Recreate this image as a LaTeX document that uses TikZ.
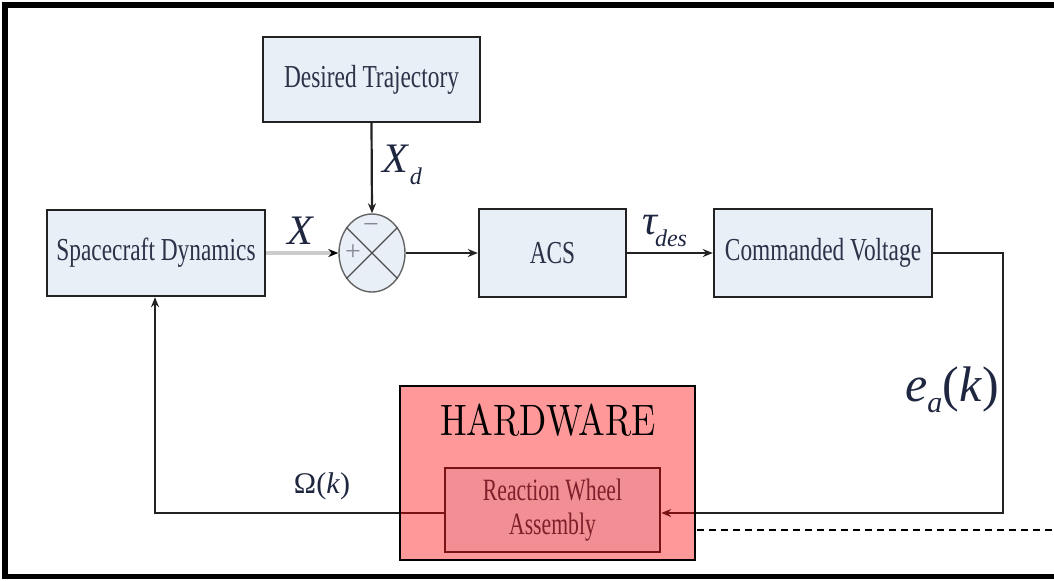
\documentclass[tikz,border=0pt]{standalone}
\usepackage{fontspec}
\usepackage{graphicx}
\usetikzlibrary{arrows.meta,shapes.geometric}
\newfontfamily\timesfam{Liberation Serif}
\newfontfamily\lmten{lmroman10-regular}[Extension=.otf]
\definecolor{boxfill}{HTML}{E8EFF7}
\definecolor{boxline}{HTML}{222222}
\definecolor{txt}{HTML}{2C3247}
\definecolor{lbl}{HTML}{1F2740}
\definecolor{hwred}{HTML}{FF0000}
\tikzset{
  block/.style={draw=boxline, line width=1.2pt, fill=boxfill, text=txt,
    font=\timesfam\fontsize{16}{17}\selectfont, align=center, inner sep=0pt},
  wire/.style={draw=boxline, line width=1.1pt},
  tip/.style={-{Stealth[length=5pt,width=4pt]}},
  sig/.style={text=lbl, inner sep=0pt},
}
% narrow text, as set in the blocks
\newcommand{\narrow}[2][0.73]{\scalebox{#1}[1]{#2}}
\newcommand{\lowsub}[1]{\raisebox{-0.6ex}{\fontsize{12}{12}\selectfont\itshape #1}}
\begin{document}
\begin{tikzpicture}[x=0.5pt,y=-0.5pt]
\useasboundingbox (0,0) rectangle (1054,580);
\clip (0,0) rectangle (1054,580);

% blocks
\node[block, minimum width=108.5pt, minimum height=42.5pt] (traj) at (371.5,79.5) {\narrow{Desired Trajectory}};
\node[block, minimum width=109pt, minimum height=43pt] (scd) at (156,253) {\narrow{Spacecraft Dynamics}};
\node[draw=boxline!70, line width=0.7pt, fill=boxfill, ellipse, minimum width=33pt, minimum height=39pt, inner sep=0pt] (sum) at (372,253) {};
\node[block, minimum width=73.5pt, minimum height=44pt] (acs) at (552.5,253) {\narrow{ACS}};
\node[block, minimum width=109pt, minimum height=44pt] (cv) at (823,253) {\narrow{Commanded Voltage}};
\node[block, minimum width=107.5pt, minimum height=42pt, font=\timesfam\fontsize{15.5}{17}\selectfont] (rwa) at (552.5,510) {\narrow[0.7]{Reaction Wheel}\\\narrow[0.7]{Assembly}};

% summing junction
\draw[boxline!80, line width=0.6pt] (sum.45) -- (sum.225) (sum.135) -- (sum.315);
\node[text=lbl!55, font=\timesfam\fontsize{14}{14}\selectfont] (minus) at (371,228) {\textminus};
\node[text=lbl!55, font=\timesfam\fontsize{14}{14}\selectfont] (plus) at (353,253) {+};

% connectors
\draw[draw=black!20, line width=1.6pt, -{Stealth[length=5pt,width=4pt,color=black]}] (scd.east) -- (sum.west);
\draw[wire, tip] (traj.south) -- (sum.north);
\draw[wire, tip] (sum.east) -- (acs.west);
\draw[wire, tip] (acs.east) -- (cv.west);
\coordinate (r1) at (1003,253);
\coordinate (r2) at (1003,513);
\draw[wire, tip] (cv.east) -- (r1) -- (r2) -- (rwa.east |- r2);
\coordinate (l1) at (155,513);
\draw[wire, tip] (rwa.west |- l1) -- (l1) -- (scd.south -| l1);

% signal labels
\node[sig, font=\timesfam\itshape\fontsize{21}{21}\selectfont] (lx) at (300,231) {X};
\node[sig, font=\timesfam\itshape\fontsize{21}{21}\selectfont] (lxd) at (402,165) {X\kern1pt\lowsub{d}};
\node[sig, font=\timesfam\itshape\fontsize{21}{21}\selectfont] (ltau) at (665,231) {τ\kern-1.5pt\lowsub{des}};
\node[sig, font=\timesfam\fontsize{15}{15}\selectfont] (lom) at (322,486) {Ω(\textit{k})};
\node[sig, font=\timesfam\fontsize{25}{25}\selectfont] (lea) at (952,390) {\textit{e}\raisebox{-0.5ex}{\fontsize{15}{15}\selectfont\itshape a}(\textit{k})};

% hardware overlay
\node[draw=black, line width=1.1pt, fill=hwred, fill opacity=0.4, draw opacity=1, minimum width=147.5pt, minimum height=87pt, inner sep=0pt] (hw) at (547.5,473) {};
\node[font=\lmten\fontsize{22}{22}\selectfont, text=black] (hwlabel) at (548,420) {\narrow[0.81]{HARDWARE}};
\coordinate (d1) at (1060,530);
\draw[black, line width=0.9pt, dash pattern=on 3.5pt off 2.5pt] (hw.east |- d1) ++(1,0) -- (d1);

% outer frame
\draw[black, line width=2.6pt] (1070,5) -- (5,5) -- (5,576.5) -- (1070,576.5);
\end{tikzpicture}
\end{document}
